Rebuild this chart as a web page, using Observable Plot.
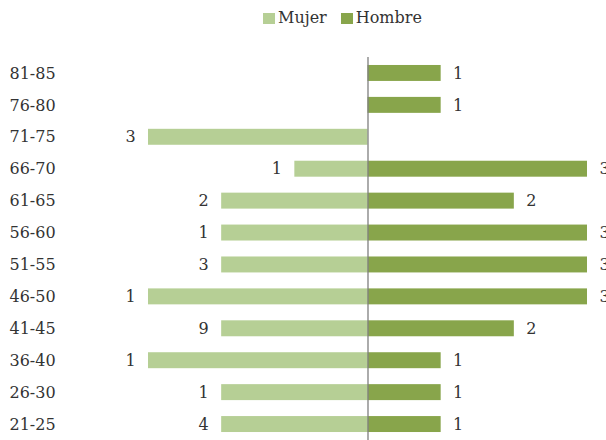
<!DOCTYPE html>
<html>
<head>
<meta charset="utf-8">
<script src="https://cdn.jsdelivr.net/npm/d3@7"></script>
<script src="https://cdn.jsdelivr.net/npm/@observablehq/plot@0.6"></script>
<style>
  html, body { margin: 0; padding: 0; background: #fff; overflow: hidden; }
  #wrap { position: relative; width: 606px; height: 440px; }
  #legend { position: absolute; top: 8px; left: 263px; font-family: "DejaVu Serif", serif; font-size: 16px; line-height: 20px; color: #333; display: flex; gap: 14px; }
  #legend span.item { display: inline-flex; align-items: center; }
  #legend span.sw { display: inline-block; width: 12px; height: 11px; margin-right: 3px; }
</style>
</head>
<body>
<div id="wrap"><div id="legend"></div></div>
<script>
const groups = ["81-85","76-80","71-75","66-70","61-65","56-60","51-55","46-50","41-45","36-40","26-30","21-25"];
const mujer  = [0, 0, 3, 1, 2, 2, 2, 3, 2, 3, 2, 2];
const hombre = [1, 1, 0, 3, 2, 3, 3, 3, 2, 1, 1, 1];
const mujerLabels  = ["", "", "3", "1", "2", "1", "3", "1", "9", "1", "1", "4"];
const hombreLabels = ["1", "1", "", "3", "2", "3", "3", "3", "2", "1", "1", "1"];
const series = ["Mujer", "Hombre"];
const colors = ["#b6cf95", "#88a54b"];

const rows = [];
groups.forEach((g, i) => {
  rows.push({group: g, sexo: "Mujer", value: -mujer[i], label: mujerLabels[i]});
  rows.push({group: g, sexo: "Hombre", value: hombre[i], label: hombreLabels[i]});
});
const bars = rows.filter(d => d.value !== 0);
const labM = rows.filter(d => d.sexo === "Mujer" && d.label !== "");
const labH = rows.filter(d => d.sexo === "Hombre" && d.label !== "");

const font = "DejaVu Serif, serif";
const chart = Plot.plot({
  width: 606,
  height: 440,
  marginLeft: 148,
  marginRight: 19,
  marginTop: 57,
  marginBottom: 0,
  style: {fontFamily: font, fontSize: "16px", color: "#333", background: "#fff"},
  x: {domain: [-3, 3], axis: null},
  y: {domain: groups, paddingInner: 0.5, paddingOuter: 0.25, round: false, label: null},
  color: {domain: series, range: colors},
  marks: [
    Plot.barX(bars, {x: "value", y: "group", fill: "sexo"}),
    Plot.text(labM, {x: "value", y: "group", text: "label", dx: -18, textAnchor: "middle", fill: "#333", fontSize: 16}),
    Plot.text(labH, {x: "value", y: "group", text: "label", dx: 17, textAnchor: "middle", fill: "#333", fontSize: 16}),
    Plot.ruleX([0], {stroke: "#7f7f7f", strokeWidth: 1.3}),
    Plot.axisY({tickSize: 0, textAnchor: "start", dx: -130, fontSize: 16, label: null, fill: "#333"})
  ]
});
document.getElementById("wrap").appendChild(chart);

const leg = document.getElementById("legend");
series.forEach((s, i) => {
  const item = document.createElement("span");
  item.className = "item";
  const sw = document.createElement("span");
  sw.className = "sw";
  sw.style.background = colors[i];
  item.appendChild(sw);
  item.appendChild(document.createTextNode(s));
  leg.appendChild(item);
});
</script>
</body>
</html>
